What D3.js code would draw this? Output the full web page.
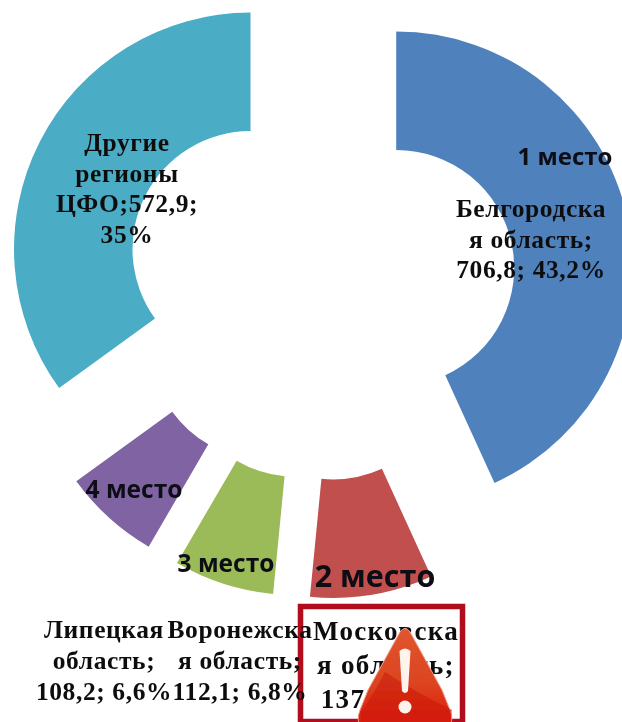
<!DOCTYPE html>
<html><head><meta charset="utf-8">
<script src="https://cdn.jsdelivr.net/npm/d3@7"></script>
<style>html,body{margin:0;padding:0;background:#fff}svg{display:block}</style>
</head><body><svg id="c" width="622" height="722"></svg>
<script>
const regions = ["Белгородская область","Московская область","Воронежская область","Липецкая область","Другие регионы ЦФО"];
const values = [706.8, 137, 112.1, 108.2, 572.9];
const colors = ["#4f81bd","#c0504d","#9bbb59","#8064a2","#4bacc6"];
const ranks = ["1 место","2 место","3 место","4 место"];
const labelLines = [
  ["Белгородска","я область;","706,8; 43,2%"],
  ["Московска","я область;","137"],
  ["Воронежска","я область;","112,1; 6,8%"],
  ["Липецкая","область;","108,2; 6,6%"],
  ["Другие","регионы","ЦФО;572,9;","35%"]
];

const cx=320, cy=284.5, explode=78, rOuter=236.5, rInner=118;
const labelPos=[[531,217,30.5,25.5,0.6],[386,640,34,27,1.3],[240,638,31,25.5,0.6],[104,638,31,25.5,0.6],[127,151,30.5,25.5,0.6]];
const rankPos=[[565,165,24],[375,587,30.5],[226,572,24.5],[134,498,24.5]];
const lineShift={ "137":-43 };

const svg=d3.select("#c");
const defs=svg.append("defs");
defs.append("filter").attr("id","soft").append("feGaussianBlur").attr("stdDeviation",0.7);
const g1=defs.append("linearGradient").attr("id","tri").attr("x1",0).attr("y1",0).attr("x2",0).attr("y2",1);
g1.append("stop").attr("offset","0").attr("stop-color","#e0562f");
g1.append("stop").attr("offset","0.55").attr("stop-color","#dc4420");
g1.append("stop").attr("offset","1").attr("stop-color","#e01408");

const root=svg.append("g").attr("filter","url(#soft)");
const pie=d3.pie().sort(null).value(d=>d);
const arc=d3.arc().innerRadius(rInner).outerRadius(rOuter);
const offset=d=>{const m=(d.startAngle+d.endAngle)/2;return [cx+explode*Math.sin(m),cy-explode*Math.cos(m)];};
root.selectAll("path.s").data(pie(values)).join("path").attr("class","s")
  .attr("transform",d=>`translate(${offset(d)})`).attr("d",arc)
  .attr("fill",(d,i)=>colors[i]);

root.append("rect").attr("x",300.5).attr("y",606.5).attr("width",162).attr("height",115)
  .attr("fill","none").attr("stroke","#b2101c").attr("stroke-width",5.5);

labelLines.forEach((lines,i)=>{
  const p=labelPos[i];
  const t=root.append("text").attr("text-anchor","middle")
    .attr("font-family","Liberation Serif").attr("font-weight","bold").attr("font-size",p[3]).attr("letter-spacing",p[4]).attr("fill","#111");
  lines.forEach((s,j)=>t.append("tspan").attr("x",p[0]+(lineShift[s]||0)).attr("y",p[1]+j*p[2]).text(s));
});
ranks.forEach((s,i)=>{
  const p=rankPos[i];
  root.append("text").attr("x",p[0]).attr("y",p[1]).attr("text-anchor","middle")
    .attr("font-family","Open Sans").attr("font-weight","700").attr("font-size",p[2]).attr("fill","#0c0c14").text(s);
});

// warning icon
const ic=root.append("g").attr("transform","translate(405,722)");
ic.append("path").attr("d","M-5,-90 Q0,-97 5,-90 L37,-32 L45,-12 Q50,0 42,6 L-42,6 Q-50,0 -45,-12 L-37,-32 Z")
  .attr("fill","url(#tri)").attr("stroke","#f0a090").attr("stroke-width",1);
ic.append("path").attr("d","M-44,-10 Q-30,-30 -20,-50 Q10,-30 47,-12 L44,6 L-44,6 Z").attr("fill","#c81a0a").attr("opacity",0.55);
ic.append("path").attr("d","M-5.5,-71 Q0,-76 5.5,-71 L3,-31 Q0,-27 -3,-31 Z").attr("fill","#fff3ee");
ic.append("circle").attr("cx",0).attr("cy",-15).attr("r",6.5).attr("fill","#fff3ee");
</script></body></html>
